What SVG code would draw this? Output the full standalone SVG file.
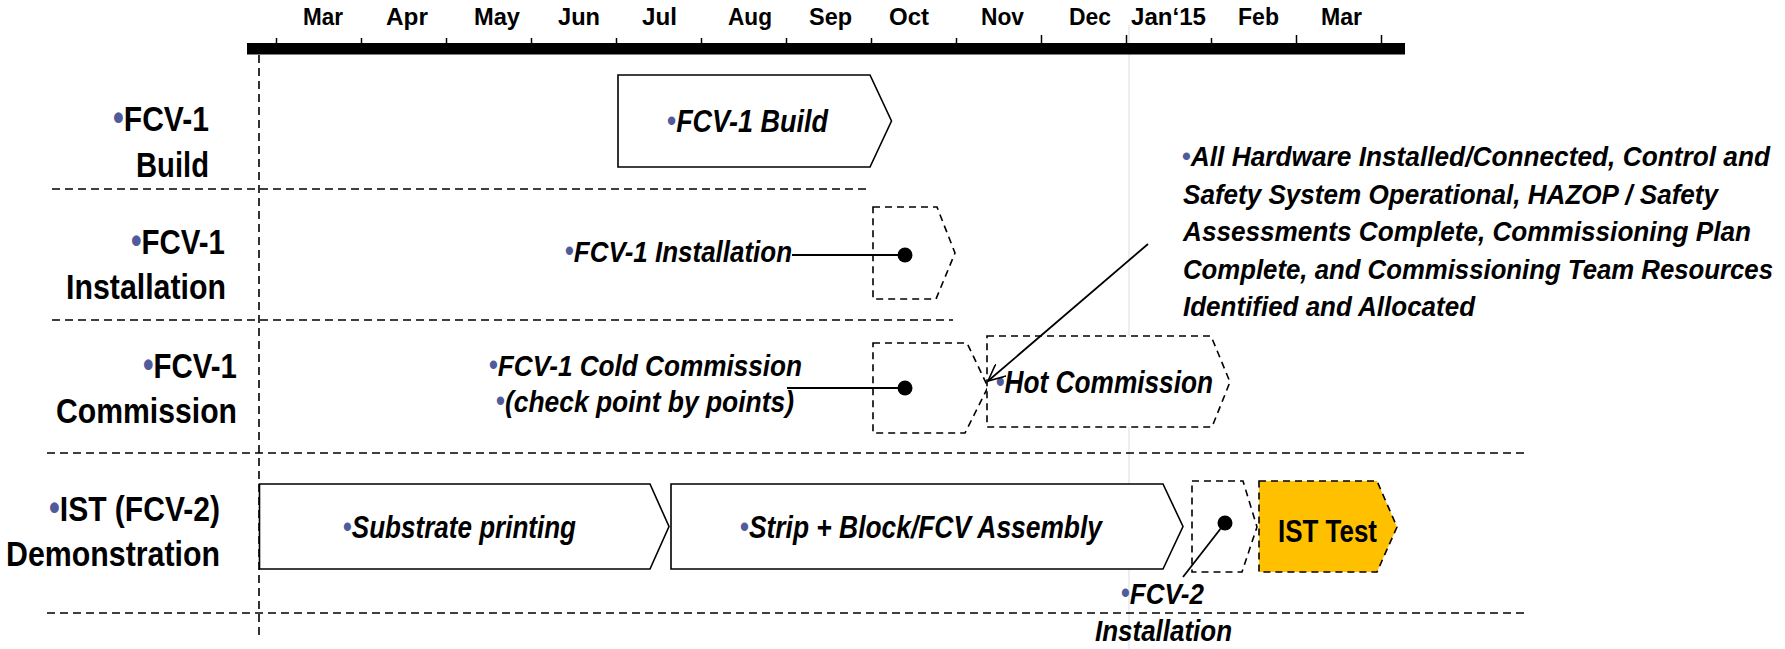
<svg xmlns="http://www.w3.org/2000/svg" width="1785" height="649" viewBox="0 0 1785 649">
<style>
.t{font-family:"Liberation Sans Narrow","Liberation Sans",Arial,sans-serif;font-weight:bold;fill:#000}
.it{font-style:italic}
.bul{fill:#4F5B9B;font-style:normal}
.box{fill:#fff;stroke:#000;stroke-width:1.6}
.dbox{fill:#fff;stroke:#000;stroke-width:1.6;stroke-dasharray:7 5}
.sep{stroke:#000;stroke-width:1.6;stroke-dasharray:8 5;fill:none}
.tick{stroke:#000;stroke-width:1.5}
.con{stroke:#000;stroke-width:1.8;fill:none}
</style>
<defs>
<marker id="arr" viewBox="0 0 18 16" refX="17" refY="8" markerWidth="18" markerHeight="16" markerUnits="userSpaceOnUse" orient="auto">
<path d="M0,0 L17,8 L0,16" fill="none" stroke="#000" stroke-width="1.6"/>
</marker>
</defs>
<rect width="1785" height="649" fill="#fff"/>

<g id="grid">
<line x1="1129" y1="25" x2="1129" y2="649" stroke="#E8E8E8" stroke-width="1.5"/>
<line x1="259" y1="55" x2="259" y2="637" class="sep"/>
<line x1="52" y1="189" x2="871" y2="189" class="sep"/>
<line x1="52" y1="320" x2="953" y2="320" class="sep"/>
<line x1="47" y1="453" x2="1525" y2="453" class="sep"/>
<line x1="47" y1="613" x2="1525" y2="613" class="sep"/>
</g>

<g id="timeline">
<rect x="247" y="43" width="1158" height="11.5" fill="#000"/>
<g class="tick">
<line x1="276.5" y1="38" x2="276.5" y2="44"/><line x1="361.5" y1="38" x2="361.5" y2="44"/>
<line x1="446.5" y1="38" x2="446.5" y2="44"/><line x1="531.5" y1="38" x2="531.5" y2="44"/>
<line x1="616.5" y1="38" x2="616.5" y2="44"/><line x1="701.5" y1="38" x2="701.5" y2="44"/>
<line x1="786.5" y1="38" x2="786.5" y2="44"/><line x1="871.5" y1="38" x2="871.5" y2="44"/>
<line x1="956.5" y1="38" x2="956.5" y2="44"/><line x1="1041.5" y1="35" x2="1041.5" y2="44"/>
<line x1="1126.5" y1="35" x2="1126.5" y2="44"/><line x1="1211.5" y1="38" x2="1211.5" y2="44"/>
<line x1="1296.5" y1="35" x2="1296.5" y2="44"/><line x1="1381.5" y1="35" x2="1381.5" y2="44"/>
</g>
<g class="t" font-size="24">
<text x="303" y="25" textLength="40" lengthAdjust="spacingAndGlyphs">Mar</text>
<text x="386" y="25" textLength="42" lengthAdjust="spacingAndGlyphs">Apr</text>
<text x="474" y="25" textLength="46" lengthAdjust="spacingAndGlyphs">May</text>
<text x="558" y="25" textLength="42" lengthAdjust="spacingAndGlyphs">Jun</text>
<text x="642" y="25" textLength="35" lengthAdjust="spacingAndGlyphs">Jul</text>
<text x="728" y="25" textLength="44" lengthAdjust="spacingAndGlyphs">Aug</text>
<text x="809" y="25" textLength="43" lengthAdjust="spacingAndGlyphs">Sep</text>
<text x="889" y="25" textLength="40" lengthAdjust="spacingAndGlyphs">Oct</text>
<text x="981" y="25" textLength="43" lengthAdjust="spacingAndGlyphs">Nov</text>
<text x="1069" y="25" textLength="42" lengthAdjust="spacingAndGlyphs">Dec</text>
<text x="1131" y="25" textLength="75" lengthAdjust="spacingAndGlyphs">Jan‘15</text>
<text x="1238" y="25" textLength="41" lengthAdjust="spacingAndGlyphs">Feb</text>
<text x="1321" y="25" textLength="41" lengthAdjust="spacingAndGlyphs">Mar</text>
</g>
</g>

<g id="row-labels" class="t" font-size="35">
<text x="113" y="131" textLength="96" lengthAdjust="spacingAndGlyphs"><tspan class="bul" font-size="36" dy="-1">•</tspan><tspan dy="1">FCV-1</tspan></text>
<text x="136" y="177" textLength="73" lengthAdjust="spacingAndGlyphs">Build</text>
<text x="131" y="254" textLength="94" lengthAdjust="spacingAndGlyphs"><tspan class="bul" font-size="36" dy="-1">•</tspan><tspan dy="1">FCV-1</tspan></text>
<text x="66" y="299" textLength="160" lengthAdjust="spacingAndGlyphs">Installation</text>
<text x="143" y="378" textLength="94" lengthAdjust="spacingAndGlyphs"><tspan class="bul" font-size="36" dy="-1">•</tspan><tspan dy="1">FCV-1</tspan></text>
<text x="56" y="423" textLength="181" lengthAdjust="spacingAndGlyphs">Commission</text>
<text x="49" y="521" textLength="171" lengthAdjust="spacingAndGlyphs"><tspan class="bul" font-size="36" dy="-1">•</tspan><tspan dy="1">IST (FCV-2)</tspan></text>
<text x="6" y="566" textLength="214" lengthAdjust="spacingAndGlyphs">Demonstration</text>
</g>

<g id="fcv1-build">
<polygon class="box" points="618,75 870,75 891.5,121 870,167 618,167"/>
<text class="t it" font-size="31" x="667" y="132" textLength="161" lengthAdjust="spacingAndGlyphs"><tspan class="bul" font-size="30" dy="-1">•</tspan><tspan dy="1">FCV-1 Build</tspan></text>
</g>

<g id="fcv1-installation">
<polygon class="dbox" points="873,207 937,207 955,253 936,299 873,299"/>
<text class="t it" font-size="30" x="565" y="262" textLength="227" lengthAdjust="spacingAndGlyphs"><tspan class="bul" font-size="29" dy="-1">•</tspan><tspan dy="1">FCV-1 Installation</tspan></text>
<circle cx="905" cy="255" r="7.5" fill="#000"/>
</g>

<g id="fcv1-cold-commission">
<polygon class="dbox" points="873,343 967,343 988,387 965,433 873,433"/>
<text class="t it" font-size="30" x="489" y="376" textLength="313" lengthAdjust="spacingAndGlyphs"><tspan class="bul" font-size="29" dy="-1">•</tspan><tspan dy="1">FCV-1 Cold Commission</tspan></text>
<text class="t it" font-size="30" x="496" y="412" textLength="298" lengthAdjust="spacingAndGlyphs"><tspan class="bul" font-size="29" dy="-1">•</tspan><tspan dy="1">(check point by points)</tspan></text>
<circle cx="905" cy="388" r="7.5" fill="#000"/>
</g>

<g id="hot-commission">
<polygon class="dbox" points="987,336 1211,336 1230,382 1212,427 987,427"/>
<text class="t it" font-size="32" x="996" y="393" textLength="217" lengthAdjust="spacingAndGlyphs"><tspan class="bul" font-size="30" dy="-1">•</tspan><tspan dy="1">Hot Commission</tspan></text>
</g>

<g id="milestone-note" class="t it" font-size="27">
<text x="1182" y="166" textLength="588" lengthAdjust="spacingAndGlyphs"><tspan class="bul" font-size="26" dy="-1">•</tspan><tspan dy="1">All Hardware Installed/Connected, Control and</tspan></text>
<text x="1183" y="203.5" textLength="535" lengthAdjust="spacingAndGlyphs">Safety System Operational, HAZOP / Safety</text>
<text x="1183" y="241" textLength="568" lengthAdjust="spacingAndGlyphs">Assessments Complete, Commissioning Plan</text>
<text x="1183" y="278.5" textLength="590" lengthAdjust="spacingAndGlyphs">Complete, and Commissioning Team Resources</text>
<text x="1183" y="316" textLength="292" lengthAdjust="spacingAndGlyphs">Identified and Allocated</text>
</g>

<g id="substrate-printing">
<polygon class="box" points="259.5,484 650,484 669,526.5 650,569 259.5,569"/>
<text class="t it" font-size="31" x="343" y="538" textLength="233" lengthAdjust="spacingAndGlyphs"><tspan class="bul" font-size="30" dy="-1">•</tspan><tspan dy="1">Substrate printing</tspan></text>
</g>

<g id="strip-block-assembly">
<polygon class="box" points="671,484 1163,484 1183,526.5 1163,569 671,569"/>
<text class="t it" font-size="31" x="740" y="538" textLength="362" lengthAdjust="spacingAndGlyphs"><tspan class="bul" font-size="30" dy="-1">•</tspan><tspan dy="1">Strip + Block/FCV Assembly</tspan></text>
</g>

<g id="fcv2-installation">
<polygon class="dbox" points="1192,481 1243,481 1257,527 1242,572 1192,572"/>
<circle cx="1225" cy="523" r="7.5" fill="#000"/>
<text class="t it" font-size="30" x="1121" y="604" textLength="83" lengthAdjust="spacingAndGlyphs"><tspan class="bul" font-size="29" dy="-1">•</tspan><tspan dy="1">FCV-2</tspan></text>
<text class="t it" font-size="30" x="1095" y="641" textLength="137" lengthAdjust="spacingAndGlyphs">Installation</text>
</g>

<g id="ist-test">
<polygon points="1259,481 1377,481 1397,527 1377,572 1259,572" fill="#FFC000" stroke="#000" stroke-width="1.6" stroke-dasharray="7 5"/>
<text class="t" font-size="32" x="1278" y="542" textLength="99" lengthAdjust="spacingAndGlyphs">IST Test</text>
</g>

<g id="connectors">
<line class="con" x1="792" y1="255" x2="905" y2="255"/>
<line class="con" x1="787" y1="388" x2="905" y2="388"/>
<line class="con" x1="1148" y1="244" x2="988" y2="381" marker-end="url(#arr)"/>
<line class="con" x1="1225" y1="523" x2="1183" y2="577"/>
</g>
</svg>
